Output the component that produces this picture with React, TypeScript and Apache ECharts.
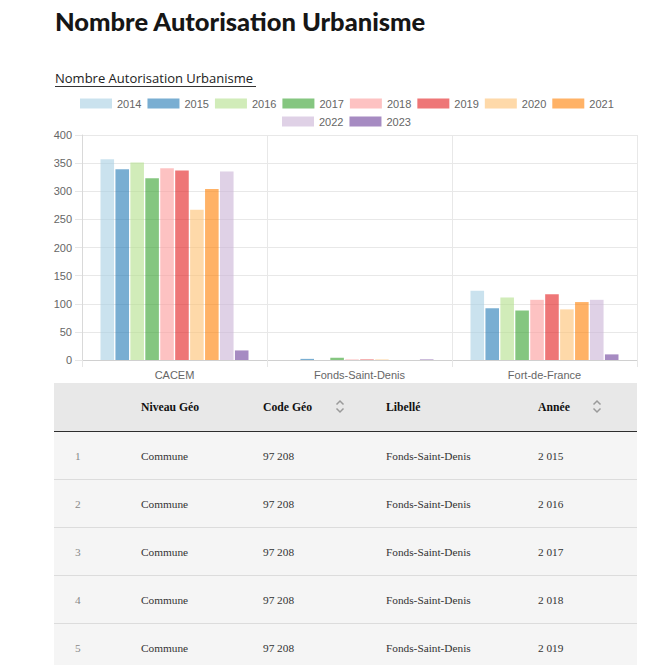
import React, { useEffect, useRef } from "react";
import * as echarts from "echarts";

const categories = ["CACEM", "Fonds-Saint-Denis", "Fort-de-France"];
const years = ["2014", "2015", "2016", "2017", "2018", "2019", "2020", "2021", "2022", "2023"];
const cacem = [357, 339, 351, 323, 341, 337, 267, 304, 335, 17];
const fondsSaintDenis = [0, 2, 0, 4, 1, 1, 1, 0, 0, 1];
const fortDeFrance = [123, 92, 111, 88, 107, 117, 90, 103, 107, 10];
const yearColors = ["#a6cee3", "#1f78b4", "#b2df8a", "#33a02c", "#fb9a99", "#e31a1c", "#fdbf6f", "#ff7f00", "#cab2d6", "#6a3d9a"];

const tableHeaders = ["", "Niveau Géo", "Code Géo", "Libellé", "Année"];
const rowIndex = ["1", "2", "3", "4", "5"];
const rowNiveau = ["Commune", "Commune", "Commune", "Commune", "Commune"];
const rowCode = ["97 208", "97 208", "97 208", "97 208", "97 208"];
const rowLibelle = ["Fonds-Saint-Denis", "Fonds-Saint-Denis", "Fonds-Saint-Denis", "Fonds-Saint-Denis", "Fonds-Saint-Denis"];
const rowAnnee = ["2 015", "2 016", "2 017", "2 018", "2 019"];

function rgba(hex: string, a: number) {
  const r = parseInt(hex.slice(1, 3), 16);
  const g = parseInt(hex.slice(3, 5), 16);
  const b = parseInt(hex.slice(5, 7), 16);
  return `rgba(${r},${g},${b},${a})`;
}

const SERIF = "Liberation Serif";
const SANS = "Liberation Sans";

const colX = [75, 141, 263, 386, 538];
const sortIconX = [340, 597];

function sortIcon(cx: number, cy: number) {
  return [
    { type: "polyline", shape: { points: [[cx - 3.5, cy - 2], [cx, cy - 5.5], [cx + 3.5, cy - 2]] }, style: { stroke: "#9a9a9a", lineWidth: 1.5, fill: null } },
    { type: "polyline", shape: { points: [[cx - 3.5, cy + 2], [cx, cy + 5.5], [cx + 3.5, cy + 2]] }, style: { stroke: "#9a9a9a", lineWidth: 1.5, fill: null } },
  ];
}

export default function App() {
  const ref = useRef<HTMLDivElement>(null);
  useEffect(() => {
    if (!ref.current) return;
    const chart = echarts.init(ref.current, undefined, { renderer: "svg" });

    const graphics: any[] = [];
    graphics.push({
      type: "text", left: 55, top: 8,
      style: { text: "Nombre Autorisation Urbanisme", fontFamily: "Lato", fontWeight: 900, fontSize: 25.5, fill: "#161616" },
    });
    graphics.push({
      type: "text", left: 55, top: 71,
      style: { text: "Nombre Autorisation Urbanisme", fontFamily: "Open Sans", fontSize: 13, fill: "#222" },
    });
    graphics.push({ type: "line", shape: { x1: 55, y1: 86.5, x2: 256, y2: 86.5 }, style: { stroke: "#333", lineWidth: 1 } });

    // table
    const tx = 54, tw = 583;
    graphics.push({ type: "rect", shape: { x: tx, y: 383, width: tw, height: 48 }, style: { fill: "#e8e8e8" } });
    graphics.push({ type: "rect", shape: { x: tx, y: 432, width: tw, height: 240 }, style: { fill: "#f5f5f5" } });
    graphics.push({ type: "line", shape: { x1: tx, y1: 431.5, x2: tx + tw, y2: 431.5 }, style: { stroke: "#2e2e2e", lineWidth: 1.2 } });
    for (let i = 1; i < rowIndex.length; i++) {
      const y = 431.5 + i * 48;
      graphics.push({ type: "line", shape: { x1: tx, y1: y, x2: tx + tw, y2: y }, style: { stroke: "#dcdcdc", lineWidth: 1 } });
    }
    tableHeaders.forEach((h, c) => {
      if (!h) return;
      graphics.push({
        type: "text", x: colX[c], y: 407,
        style: { text: h, fontFamily: SERIF, fontWeight: "bold", fontSize: 11.7, fill: "#111", verticalAlign: "middle" },
      });
    });
    sortIconX.forEach((x) => graphics.push(...sortIcon(x, 406.5)));
    const cols = [rowIndex, rowNiveau, rowCode, rowLibelle, rowAnnee];
    rowIndex.forEach((_, r) => {
      cols.forEach((col, c) => {
        graphics.push({
          type: "text", x: colX[c], y: 456 + r * 48,
          style: { text: col[r], fontFamily: SERIF, fontSize: 11.3, fill: c === 0 ? "#888" : "#333", verticalAlign: "middle" },
        });
      });
    });

    const series = years.map((y, i) => ({
      type: "bar",
      name: y,
      data: [cacem[i], fondsSaintDenis[i], fortDeFrance[i]],
      barGap: "10%",
      barCategoryGap: "20%",
      itemStyle: { color: rgba(yearColors[i], 0.6) },
    }));

    const legendCommon = {
      orient: "horizontal",
      icon: "rect",
      padding: 0,
      itemWidth: 32,
      itemHeight: 10,
      itemGap: 6,
      textStyle: { fontFamily: SANS, fontSize: 11, color: "#666" },
      selectedMode: false,
    };

    chart.setOption({
      animation: false,
      textStyle: { fontFamily: SANS },
      legend: [
        { ...legendCommon, left: 80, top: 98, data: years.slice(0, 8) },
        { ...legendCommon, left: 282, top: 116, data: years.slice(8) },
      ],
      grid: { left: 82, right: 31, top: 135, bottom: 305, containLabel: false },
      xAxis: {
        type: "category",
        data: categories,
        axisLine: { show: true, lineStyle: { color: "#d0d0d0" } },
        axisTick: { show: true, length: 7, lineStyle: { color: "#e6e6e6" } },
        splitLine: { show: true, lineStyle: { color: "#e8e8e8" } },
        axisLabel: { fontSize: 11, color: "#666", margin: 9, fontFamily: SANS },
      },
      yAxis: {
        type: "value",
        min: 0,
        max: 400,
        interval: 50,
        axisLine: { show: true, lineStyle: { color: "#d9d9d9" } },
        axisTick: { show: true, length: 7, lineStyle: { color: "#e6e6e6" } },
        splitLine: { show: true, lineStyle: { color: "#e8e8e8" } },
        axisLabel: { fontSize: 11, color: "#666", margin: 10, fontFamily: SANS },
      },
      series,
      graphic: graphics,
    });
    return () => chart.dispose();
  }, []);
  return <div ref={ref} style={{ position: "fixed", left: 0, top: 0, width: 668, height: 665, background: "#fff" }} />;
}
